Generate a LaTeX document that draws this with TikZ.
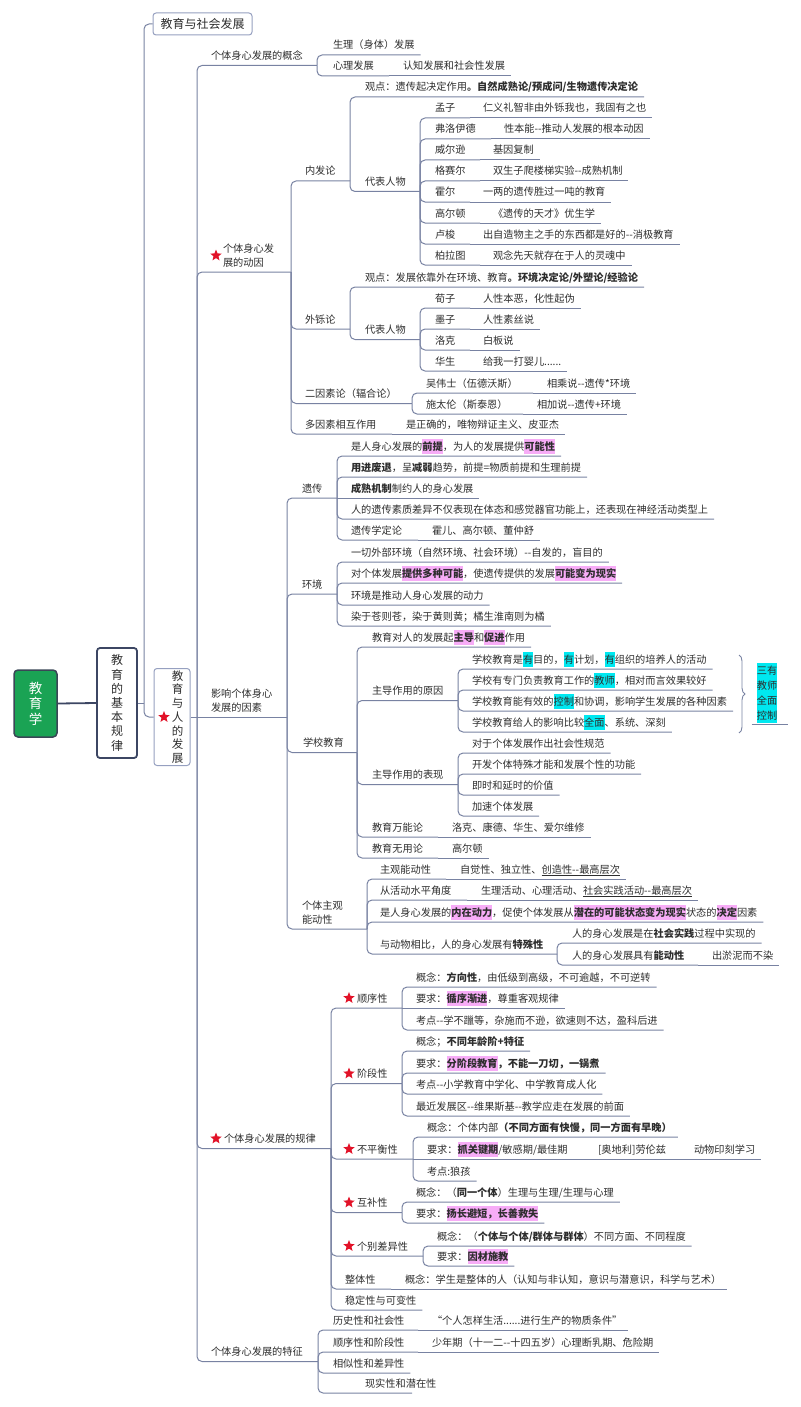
\documentclass[tikz,border=0pt]{standalone}
\usepackage{fontspec}
\setmainfont{Noto Sans CJK SC}
\usetikzlibrary{calc,shapes.geometric,decorations.pathreplacing}
\definecolor{lc}{RGB}{120,130,162}
\definecolor{tc}{RGB}{45,45,45}
\definecolor{hpk}{RGB}{247,172,247}
\definecolor{hcy}{RGB}{0,232,240}
\definecolor{rootg}{RGB}{26,163,84}
\definecolor{navy}{RGB}{60,70,99}
\definecolor{boxl}{RGB}{150,160,192}
\definecolor{starr}{RGB}{226,18,40}
\setlength{\fboxsep}{0pt}
\newcommand\hlp[1]{\colorbox{hpk}{\rule[-3.5pt]{0pt}{14.5pt}\textbf{#1}}}
\newcommand\hlc[1]{\colorbox{hcy}{\rule[-3.5pt]{0pt}{14.5pt}#1}}
\newcommand\dd{-{}-}
\tikzset{
 tx/.style={anchor=base west, inner sep=0pt, outer sep=0pt, text=tc, font=\fontsize{10.2}{13.5}\selectfont},
 ln/.style={draw=lc, line width=1pt, rounded corners=5pt},
 strs/.style={star, star points=5, star point ratio=2.3, fill=starr, draw=none, inner sep=0pt, minimum size=12pt},
 rootbox/.style={draw={rgb,255:red,58;green,70;blue,86}, line width=1.5pt, fill=rootg, rounded corners=4pt, minimum width=43pt, minimum height=67pt, text=white, align=center, inner sep=0pt, font=\fontsize{13.5}{15.5}\selectfont},
 b2box/.style={draw=navy, line width=1.8pt, fill=white, rounded corners=3pt, minimum width=40pt, minimum height=110pt, text=tc, align=center, inner sep=0pt, font=\fontsize{12}{14.2}\selectfont},
 b3box/.style={draw=boxl, line width=1pt, fill=white, rounded corners=3pt, minimum width=36pt, minimum height=97pt, inner sep=0pt},
 b3txt/.style={text=tc, align=center, inner sep=0pt, font=\fontsize{11.5}{13.7}\selectfont},
 b1box/.style={draw=boxl, line width=1pt, fill=white, rounded corners=3pt, minimum width=99pt, minimum height=22pt, text=tc, inner sep=0pt, font=\fontsize{12}{14}\selectfont},
}
% leaf, linked with a bend
\newcommand\Lf[5]{\node[tx] (#1) at (#3,#4+4) {#5};\coordinate (#1e) at ($(#1.base east)+(6,6)$);\draw[ln] (#2e) |- (#1e);}
% leaf on the parent's line
\newcommand\LfS[5]{\node[tx] (#1) at (#3,#4+4) {#5};\coordinate (#1e) at ($(#1.base east)+(6,6)$);\draw[ln] (#2e) -- (#1e);}
% branch (own spine x given)
\newcommand\Br[6]{\node[tx] (#1) at (#3,#4+4) {#6};\coordinate (#1e) at (#5,#4+10);\draw[ln] (#2e) |- (#1e);}
\newcommand\BrS[6]{\node[tx] (#1) at (#3,#4+4) {#6};\coordinate (#1e) at (#5,#4+10);\draw[ln] (#2e) -- (#1e);}
% two-line branch, #4 = underline y
\newcommand\BrT[6]{\node[tx,align=left,anchor=south west] (#1) at (#3,#4-4.8) {#6};\coordinate (#1e) at (#5,#4);\draw[ln] (#2e) |- (#1e);}
\newcommand\BrTS[6]{\node[tx,align=left,anchor=south west] (#1) at (#3,#4-4.8) {#6};\coordinate (#1e) at (#5,#4);\draw[ln] (#2e) -- (#1e);}
\begin{document}
\begin{tikzpicture}[x=1pt,y=-1pt]
\useasboundingbox (0,0) rectangle (800,1407);
% ---- boxes
\node[rootbox] (root) at (35.5,703.5) {教\\育\\学};
\node[b2box] (b2) at (117,703) {教\\育\\的\\基\\本\\规\\律};
\draw[navy,line width=1.8pt] (root.east) -- (b2.west);
\coordinate (s1e) at (144,703);
\draw[ln] (b2.east) -- (s1e);
\node[b1box] (b1) at (202.5,24) {教育与社会发展};
\node[b3box] (b3) at (172,717) {};
\node[b3txt] (b3t) at (177.5,717) {教\\育\\与\\人\\的\\发\\展};
\node[strs] (b3s) at (164,717) {};
\draw[ln] (s1e) |- (b1.west);
\draw[ln] (s1e) |- (b3.west);
\coordinate (s2e) at (197,717);
\draw[ln] (b3.east) -- (s2e);
% ---- 概念
\Br{gn}{s2}{211}{55.5}{317}{个体身心发展的概念}
\Lf{gn1}{gn}{333}{45}{生理（身体）发展}
\Br{gn2}{gn}{333}{66}{389}{心理发展}
\LfS{gn21}{gn2}{403}{66}{认知发展和社会性发展}
% ---- 动因
\BrT{dy}{s2}{223}{272}{291}{个体身心发\\展的动因}
\node[strs] (dys) at (216,255.5) {};
\Br{nf}{dy}{305}{171}{350}{内发论}
\Lf{nfv}{nf}{365}{87}{观点：遗传起决定作用\textbf{。自然成熟论/预成问/生物遗传决定论}}
\Br{nfp}{nf}{365}{181.5}{420}{代表人物}
\Br{mz}{nfp}{435}{108}{470}{孟子}\LfS{mz1}{mz}{483}{108}{仁义礼智非由外铄我也，我固有之也}
\Br{fl}{nfp}{435}{129}{491}{弗洛伊德}\LfS{fl1}{fl}{504}{129}{性本能\dd 推动人发展的根本动因}
\Br{we}{nfp}{435}{150}{480}{威尔逊}\LfS{we1}{we}{493}{150}{基因复制}
\Br{gs}{nfp}{435}{171}{480}{格赛尔}\LfS{gs1}{gs}{493}{171}{双生子爬楼梯实验\dd 成熟机制}
\Br{he}{nfp}{435}{192}{470}{霍尔}\LfS{he1}{he}{483}{192}{一两的遗传胜过一吨的教育}
\Br{gd}{nfp}{435}{213}{480}{高尔顿}\LfS{gd1}{gd}{493}{213}{《遗传的天才》优生学}
\Br{ls}{nfp}{435}{234}{470}{卢梭}\LfS{ls1}{ls}{483}{234}{出自造物主之手的东西都是好的\dd 消极教育}
\Br{bl}{nfp}{435}{255}{480}{柏拉图}\LfS{bl1}{bl}{493}{255}{观念先天就存在于人的灵魂中}
\Br{ws}{dy}{305}{319}{350}{外铄论}
\Lf{wsv}{ws}{365}{277}{观点：发展依靠外在环境、教育\textbf{。环境决定论/外塑论/经验论}}
\Br{wsp}{ws}{365}{329.5}{420}{代表人物}
\Br{xz}{wsp}{435}{298}{470}{荀子}\LfS{xz1}{xz}{483}{298}{人性本恶，化性起伪}
\Br{mo}{wsp}{435}{319}{470}{墨子}\LfS{mo1}{mo}{483}{319}{人性素丝说}
\Br{lk}{wsp}{435}{340}{470}{洛克}\LfS{lk1}{lk}{483}{340}{白板说}
\Br{hs}{wsp}{435}{361}{470}{华生}\LfS{hs1}{hs}{483}{361}{给我一打婴儿......}
\Br{ey}{dy}{305}{393.5}{412}{二因素论（辐合论）}
\Br{ww}{ey}{426}{383}{533}{吴伟士（伍德沃斯）}\LfS{ww1}{ww}{547}{383}{相乘说\dd 遗传*环境}
\Br{stl}{ey}{426}{404}{523}{施太伦（斯泰恩）}\LfS{stl1}{stl}{537}{404}{相加说\dd 遗传+环境}
\Br{dx}{dy}{305}{424}{392}{多因素相互作用}\LfS{dx1}{dx}{406}{424}{是正确的，唯物辩证主义、皮亚杰}
% ---- 因素
\BrTS{ys}{s2}{211}{717}{287}{影响个体身心\\发展的因素}
\Br{yc}{ys}{302}{488}{337}{遗传}
\Lf{yc1}{yc}{351}{446}{是人身心发展的\hlp{前提}，为人的发展提供\hlp{可能性}}
\Lf{yc2}{yc}{351}{467}{\textbf{用进废退}，呈\textbf{减弱}趋势，前提=物质前提和生理前提}
\LfS{yc3}{yc}{351}{488}{\textbf{成熟机制}制约人的身心发展}
\Lf{yc4}{yc}{351}{509}{人的遗传素质差异不仅表现在体态和感觉器官功能上，还表现在神经活动类型上}
\Br{yc5}{yc}{351}{530}{418}{遗传学定论}\LfS{yc51}{yc5}{432}{530}{霍儿、高尔顿、董仲舒}
\Br{hj}{ys}{302}{584}{337}{环境}
\Lf{hj1}{hj}{351}{552}{一切外部环境（自然环境、社会环境）\dd 自发的，盲目的}
\Lf{hj2}{hj}{351}{573}{对个体发展\hlp{提供多种可能}，使遗传提供的发展\hlp{可能变为现实}}
\Lf{hj3}{hj}{351}{595}{环境是推动人身心发展的动力}
\Lf{hj4}{hj}{351}{616}{染于苍则苍，染于黄则黄；橘生淮南则为橘}
\Br{xx}{ys}{303}{742.5}{357}{学校教育}
\Lf{xx1}{xx}{372}{637}{教育对人的发展起\hlp{主导}和\hlp{促进}作用}
\Br{xy}{xx}{372}{690.5}{458}{主导作用的原因}
\Lf{xy1}{xy}{472}{659}{学校教育是\hlc{有}目的，\hlc{有}计划，\hlc{有}组织的培养人的活动}
\Lf{xy2}{xy}{472}{680}{学校有专门负责教育工作的\hlc{教师}，相对而言效果较好}
\Lf{xy3}{xy}{472}{701}{学校教育能有效的\hlc{控制}和协调，影响学生发展的各种因素}
\Lf{xy4}{xy}{472}{722}{学校教育给人的影响比较\hlc{全面}、系统、深刻}
\coordinate (br1) at (739,655);
\coordinate (br2) at (739,733);
\draw[draw=lc, line width=0.9pt, decorate, decoration={brace, amplitude=6pt}] (br1) -- (br2);
\node[inner sep=0pt, align=center, text=tc, font=\fontsize{10.2}{15}\selectfont] (sy) at (767,693) {\hlc{三有}\\\hlc{教师}\\\hlc{全面}\\\hlc{控制}};
\draw[draw=lc, line width=1pt] ($(sy.south west)+(-5,2)$) -- ($(sy.south east)+(11,2)$);
\Br{xb}{xx}{372}{774.5}{458}{主导作用的表现}
\Lf{xb1}{xb}{472}{743}{对于个体发展作出社会性规范}
\Lf{xb2}{xb}{472}{764}{开发个体特殊才能和发展个性的功能}
\Lf{xb3}{xb}{472}{785}{即时和延时的价值}
\Lf{xb4}{xb}{472}{806}{加速个体发展}
\Br{wn}{xx}{372}{827}{438}{教育万能论}\LfS{wn1}{wn}{452}{827}{洛克、康德、华生、爱尔维修}
\Br{wy}{xx}{372}{848}{438}{教育无用论}\LfS{wy1}{wy}{452}{848}{高尔顿}
\BrT{zg}{ys}{302}{929}{367}{个体主观\\能动性}
\Br{zg1}{zg}{380}{869}{446}{主观能动性}\LfS{zg11}{zg1}{460}{869}{自觉性、独立性、\underline{创造性\dd 最高层次}}
\Br{zg2}{zg}{380}{890}{467}{从活动水平角度}\LfS{zg21}{zg2}{481}{890}{生理活动、心理活动、\underline{社会实践活动\dd 最高层次}}
\Lf{zg3}{zg}{380}{912}{是人身心发展的\hlp{内在动力}，促使个体发展从\hlp{潜在的可能状态变为现实}状态的\hlp{决定}因素}
\Br{zg4}{zg}{380}{944}{557}{与动物相比，人的身心发展有\textbf{特殊性}}
\Lf{zg41}{zg4}{572}{933}{人的身心发展是在\textbf{社会实践}过程中实现的}
\Br{zg42}{zg4}{572}{955}{698}{人的身心发展具有\textbf{能动性}}\LfS{zg421}{zg42}{712}{955}{出淤泥而不染}
% ---- 规律
\Br{gl}{s2}{224}{1138.5}{331}{个体身心发展的规律}
\node[strs] (gls) at (216,1138.5) {};
\Br{sx}{gl}{357}{998}{402}{顺序性}
\node[strs] (sxs) at (349,998) {};
\Lf{sx1}{sx}{416}{977}{概念：\textbf{方向性}，由低级到高级，不可逾越，不可逆转}
\LfS{sx2}{sx}{416}{998}{要求：\hlp{循序渐进}，尊重客观规律}
\Lf{sx3}{sx}{416}{1020}{考点\dd 学不躐等，杂施而不逊，欲速则不达，盈科后进}
\Br{jd}{gl}{357}{1073.5}{402}{阶段性}
\node[strs] (jds) at (349,1073.5) {};
\Lf{jd1}{jd}{416}{1041}{概念；\textbf{不同年龄阶+特征}}
\Lf{jd2}{jd}{416}{1063}{要求：\hlp{分阶段教育}\textbf{，不能一刀切，一锅煮}}
\Lf{jd3}{jd}{416}{1084}{考点\dd 小学教育中学化、中学教育成人化}
\Lf{jd4}{jd}{416}{1106}{最近发展区\dd 维果斯基\dd 教学应走在发展的前面}
\Br{bp}{gl}{357}{1149}{413}{不平衡性}
\node[strs] (bps) at (349,1149) {};
\Lf{bp1}{bp}{427}{1127}{概念：个体内部\textbf{（不同方面有快慢，同一方面有早晚）}}
\BrS{bp2}{bp}{427}{1149}{583}{要求：\hlp{抓关键期}/敏感期/最佳期}
\BrS{bp21}{bp2}{598}{1149}{680}{[奥地利]劳伦兹}
\LfS{bp211}{bp21}{694}{1149}{动物印刻学习}
\Lf{bp3}{bp}{427}{1171}{考点:狼孩}
\Br{hb}{gl}{357}{1202.5}{402}{互补性}
\node[strs] (hbs) at (349,1202.5) {};
\Lf{hb1}{hb}{416}{1192}{概念：（\textbf{同一个体}）生理与生理/生理与心理}
\Lf{hb2}{hb}{416}{1213}{要求：\hlp{扬长避短，长善救失}}
\Br{gb}{gl}{357}{1246}{423}{个别差异性}
\node[strs] (gbs) at (349,1246) {};
\Lf{gb1}{gb}{437}{1236}{概念：（\textbf{个体与个体/群体与群体}）不同方面、不同程度}
\Lf{gb2}{gb}{437}{1256}{要求：\hlp{因材施教}}
\Br{zt}{gl}{345}{1279}{391}{整体性}\LfS{zt1}{zt}{405}{1279}{概念：学生是整体的人（认知与非认知，意识与潜意识，科学与艺术）}
\Lf{wd}{gl}{345}{1300}{稳定性与可变性}
% ---- 特征
\Br{tz}{s2}{211}{1351.5}{318}{个体身心发展的特征}
\Br{tz1}{tz}{333}{1320}{418}{历史性和社会性}\LfS{tz11}{tz1}{432}{1320}{“个人怎样生活......进行生产的物质条件”}
\Br{tz2}{tz}{333}{1342}{418}{顺序性和阶段性}\LfS{tz21}{tz2}{432}{1342}{少年期（十一二\dd 十四五岁）心理断乳期、危险期}
\Lf{tz3}{tz}{333}{1363}{相似性和差异性}
\Br{tz4}{tz}{365}{1383}{412}{现实性和潜在性}
\end{tikzpicture}
\end{document}
